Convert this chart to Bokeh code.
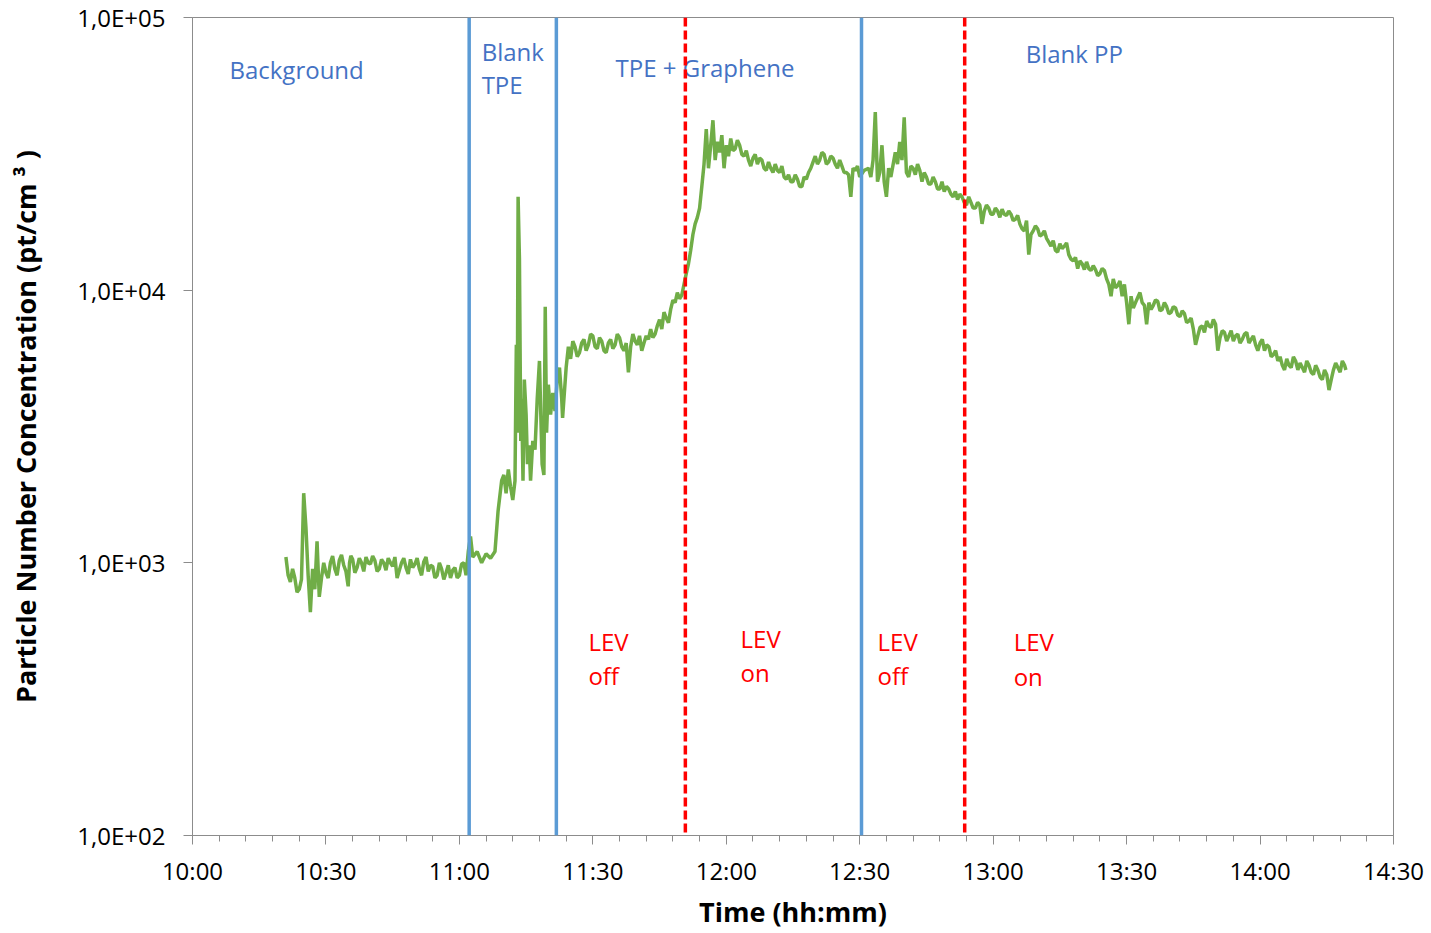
from bokeh.plotting import figure
from bokeh.models import Span, FixedTicker, ColumnDataSource
from bokeh.embed import file_html
from bokeh.resources import INLINE
from bokeh.core.properties import value

# ---- axes ----
x_tick_minutes = [0, 30, 60, 90, 120, 150, 180, 210, 240, 270]   # minutes after 10:00
x_tick_labels = ["10:00", "10:30", "11:00", "11:30", "12:00", "12:30", "13:00", "13:30", "14:00", "14:30"]
x_minor_minutes = list(range(0, 271, 6))
y_ticks = [100, 1000, 10000, 100000]
y_tick_labels = ["1,0E+02", "1,0E+03", "1,0E+04", "1,0E+05"]

# ---- phase markers (minutes after 10:00) ----
phase_lines = [62.2, 81.8, 150.4]      # blue solid
lev_lines = [110.8, 173.6]             # red dashed

# ---- annotations ----
ann_text = ["Background", "Blank", "TPE", "TPE + Graphene", "Blank PP",
            "LEV", "off", "LEV", "on", "LEV", "off", "LEV", "on"]
ann_x = [8.3, 65.0, 65.0, 95.1, 187.3,
         89.0, 89.0, 123.2, 123.2, 154.0, 154.0, 184.6, 184.6]
ann_y = [64500, 75000, 56800, 65600, 73800,
         515, 386, 528, 396, 515, 386, 515, 383]
ann_color = ["#4472C4"] * 5 + ["#FF0000"] * 8

# ---- particle number concentration (pt/cm3), time in minutes after 10:00 ----
t_bg = [21, 21.5, 22, 23, 24, 24.5, 25, 25.5, 26, 26.5,
        27, 27.5, 28, 28.5, 29, 30, 31, 32, 33, 34,
        35, 35.3, 36, 37, 38, 39, 40, 41, 42, 43,
        44, 45, 46, 47, 48, 49, 50, 51, 52, 53,
        54, 55, 56, 57, 58, 59, 60, 61, 62]
v_bg = [1050, 900, 850, 880, 800, 870, 1800, 1350, 900, 660,
        950, 800, 1200, 750, 880, 920, 1000, 950, 1020, 980,
        820, 1000, 1030, 960, 1000, 1050, 990, 1020, 950, 1000,
        1040, 970, 880, 1000, 960, 1030, 990, 950, 1010, 930,
        970, 900, 950, 920, 880, 960, 900, 1000, 1100]
t_bg_half = [22.5, 23.5, 29.5, 30.5, 31.5, 32.5, 33.5, 34.5, 35.6, 36.5,
             37.5, 38.5, 39.5, 40.5, 41.5, 42.5, 43.5, 44.5, 45.5, 46.5,
             47.5, 48.5, 49.5, 50.5, 51.5, 52.5, 53.5, 54.5, 55.5, 56.5,
             57.5, 58.5, 59.5, 60.5, 61.5]
v_bg_half = [950, 780, 1000, 880, 1060, 900, 1070, 930, 1060, 920,
             1040, 930, 1000, 1060, 930, 1030, 940, 1000, 1050, 940,
             1040, 910, 960, 1040, 900, 1050, 980, 880, 1000, 870,
             980, 940, 880, 990, 900]

t_tpe = [62.5, 63, 64, 65, 66, 67, 68, 68.7, 69.5, 70,
         70.5, 71, 71.5, 72, 72.5, 72.8, 73, 73.2, 73.5, 73.8,
         74, 74.3, 74.6, 75, 75.3, 75.7, 76, 76.5, 77, 77.5,
         78, 78.3, 78.6, 79, 79.3, 79.6, 80, 80.5, 81, 81.5,
         82]
v_tpe = [1250, 1050, 1100, 1000, 1080, 1040, 1100, 1550, 2000, 2100,
         1800, 2200, 1900, 1700, 2000, 6300, 3000, 22000, 13000, 2800,
         4000, 2000, 4700, 3500, 2300, 2700, 2000, 2800, 2600, 4000,
         5500, 3500, 2300, 2100, 8700, 3000, 4500, 3500, 4200, 3600,
         4700]

t_gr = [82.5, 83, 83.2, 84, 84.5, 85, 86, 87, 88, 89,
        90, 91, 92, 93, 94, 95, 96, 97, 97.5, 98,
        98.5, 99, 100, 101, 102, 103, 104, 105, 106, 107,
        108, 109, 110, 110.5, 111, 111.5, 112, 112.5, 113, 113.5,
        114, 114.5, 115, 115.5, 116, 116.5, 117, 117.5, 118, 118.5,
        119, 119.5, 120, 121, 122, 123, 124, 125, 126, 127,
        128, 129, 130, 131, 132, 133, 134, 135, 136, 137,
        138, 139, 140, 141, 142, 143, 144, 145, 146, 147,
        147.5, 148, 148.5, 149, 150]
v_gr = [5200, 4000, 3400, 5200, 6200, 5600, 6200, 5900, 6600, 6300,
        6800, 6100, 6500, 5900, 6600, 6300, 6700, 6000, 6400, 5000,
        6200, 6900, 6300, 6000, 6800, 7200, 6900, 7800, 8300, 7600,
        9200, 9800, 9600, 10500, 11500, 12500, 14000, 16000, 17500, 18500,
        20000, 24000, 29000, 39000, 28000, 34000, 42000, 30000, 35000, 32000,
        37000, 28000, 34000, 36000, 33000, 34000, 31000, 30000, 30500, 29000,
        30000, 27500, 28000, 29000, 27000, 26000, 26500, 25000, 25500, 24000,
        25500, 28000, 31000, 30000, 31500, 29500, 30500, 28000, 28500, 27000,
        26500, 22000, 28000, 27500, 26000]
t_gr_half = [85.5, 86.5, 87.5, 88.5, 89.5, 90.5, 91.5, 92.5, 93.5, 94.5,
             95.5, 96.5, 99.5, 100.5, 101.5, 102.5, 103.5, 104.5, 105.5, 106.5,
             107.5, 108.5, 109.5, 120.5, 121.5, 122.5, 123.5, 124.5, 125.5, 126.5,
             127.5, 128.5, 129.5, 130.5, 131.5, 132.5, 133.5, 134.5, 135.5, 136.5,
             137.5, 138.5, 139.5, 140.5, 141.5, 142.5, 143.5, 144.5, 145.5, 146.5,
             149.5]
v_gr_half = [6500, 5700, 6400, 6000, 6900, 6200, 6700, 6000, 6400, 6100,
             6900, 6200, 6500, 6800, 6400, 6600, 6700, 7400, 7200, 7900,
             8500, 9000, 9300, 31000, 32500, 35500, 31500, 32500, 28500, 31500,
             30500, 28000, 29500, 27000, 27500, 28500, 25500, 25000, 26500, 24000,
             26000, 27000, 29500, 29000, 32000, 29000, 31000, 29000, 30000, 27000,
             28500]

t_pp = [151, 152, 152.5, 153, 153.5, 154, 154.5, 155, 155.5, 156,
        156.5, 157, 158, 158.5, 159, 159.5, 160, 160.5, 161, 162,
        163, 164, 165, 166, 167, 168, 169, 170, 171, 172,
        173, 174, 175, 176, 177, 177.5, 178, 179, 180, 181,
        182, 183, 184, 185, 186, 187, 187.5, 188, 188.5, 189,
        190, 191, 192, 193, 194, 195, 196, 197, 198, 199,
        200, 201, 202, 203, 204, 205, 206, 206.5, 207, 208,
        209, 209.5, 210, 210.5, 211, 212, 213, 214, 214.5, 215,
        216, 217, 218, 219, 220, 221, 222, 223, 224, 225,
        225.5, 226, 227, 228, 229, 230, 230.5, 231, 232, 233,
        234, 235, 236, 237, 238, 239, 240, 241, 242, 243,
        244, 245, 246, 247, 248, 249, 250, 251, 252, 253,
        254, 255, 255.5, 256, 257, 258, 259, 259.3]
v_pp = [27500, 28000, 26000, 30000, 45000, 25000, 27000, 34000, 25000, 22000,
        28000, 26000, 32000, 29000, 35000, 30000, 43000, 27000, 26000, 28000,
        29000, 25000, 26000, 24500, 25000, 23500, 23000, 23500, 22000, 21500,
        22000, 20500, 21000, 20000, 20500, 17500, 19500, 20000, 19000, 19500,
        19800, 18800, 19000, 18200, 17500, 16500, 18000, 13500, 16000, 16500,
        16800, 16000, 15500, 14500, 14000, 14800, 14500, 13500, 12800, 12000,
        12500, 12700, 11800, 11900, 11500, 11800, 10500, 9500, 11000, 10400,
        9500, 10500, 9000, 7500, 9500, 9000, 9800, 8800, 7500, 9000,
        8800, 9100, 8500, 8700, 8300, 8600, 8000, 8200, 7700, 7200,
        6300, 6800, 7400, 7700, 7300, 7500, 6000, 6700, 7000, 6800,
        6500, 6900, 6600, 7000, 6600, 6300, 6400, 6000, 6200, 5800,
        5500, 5300, 5600, 5200, 5500, 5400, 5000, 5300, 4900, 5100,
        4700, 4900, 4300, 4700, 5400, 5000, 5300, 5100]
t_pp_half = [161.5, 162.5, 163.5, 164.5, 165.5, 166.5, 167.5, 168.5, 169.5, 170.5,
             171.5, 172.5, 173.5, 174.5, 175.5, 176.5, 178.5, 179.5, 180.5, 181.5,
             182.5, 183.5, 184.5, 185.5, 186.5, 189.5, 190.5, 191.5, 192.5, 193.5,
             194.5, 195.5, 196.5, 197.5, 198.5, 199.5, 200.5, 201.5, 202.5, 203.5,
             204.5, 205.5, 207.5, 208.5, 211.5, 212.5, 213.5, 215.5, 216.5, 217.5,
             218.5, 219.5, 220.5, 221.5, 222.5, 223.5, 224.5, 226.5, 227.5, 228.5,
             229.5, 231.5, 232.5, 233.5, 234.5, 235.5, 236.5, 237.5, 238.5, 239.5,
             240.5, 241.5, 242.5, 243.5, 244.5, 245.5, 246.5, 247.5, 248.5, 249.5,
             250.5, 251.5, 252.5, 253.5, 254.5, 256.5, 257.5, 258.5]
v_pp_half = [28500, 26500, 27500, 27000, 24500, 26000, 23500, 25000, 24000, 22500,
             23000, 22500, 21000, 22000, 20000, 21000, 20500, 19000, 20000, 18500,
             19000, 19500, 18000, 18800, 16800, 17200, 15800, 16500, 15000, 15200,
             13800, 14200, 14900, 13000, 13200, 12800, 11900, 12000, 12300, 11300,
             12000, 11000, 10200, 10800, 8600, 9400, 9000, 8500, 9200, 8400,
             9000, 8200, 8700, 8100, 8400, 7600, 7900, 7300, 7000, 7400,
             7800, 7100, 6500, 7100, 6800, 6400, 6900, 6400, 6800, 6000,
             6600, 6300, 5700, 6000, 5700, 5100, 5300, 5700, 5100, 5200,
             5500, 5000, 5300, 4800, 5100, 5100, 5200, 5500]

t_all = t_bg + t_bg_half + t_tpe + t_gr + t_gr_half + t_pp + t_pp_half
v_all = v_bg + v_bg_half + v_tpe + v_gr + v_gr_half + v_pp + v_pp_half
assert len(t_all) == len(v_all)
pairs = sorted(zip(t_all, v_all))
line_t = [a for a, _ in pairs]
line_v = [b for _, b in pairs]

FONT = "Open Sans"
AXIS_GRAY = "#8C8C8C"

p = figure(width=1430, height=933, x_range=(0, 270), y_range=(100, 100000),
           y_axis_type="log", output_backend="svg", toolbar_location=None,
           min_border_left=192, min_border_top=17, min_border_right=37,
           min_border_bottom=98, background_fill_color="white",
           border_fill_color="white")
p.xgrid.visible = False
p.ygrid.visible = False
p.outline_line_color = AXIS_GRAY
p.outline_line_width = 1

p.line(line_t, line_v, line_color="#70AD47", line_width=3.5)

for loc in phase_lines:
    p.add_layout(Span(location=loc, dimension="height", line_color="#5B9BD5", line_width=3.5))
for loc in lev_lines:
    p.add_layout(Span(location=loc, dimension="height", line_color="#FF0000",
                      line_width=3.5, line_dash="9 4"))

src = ColumnDataSource(dict(x=ann_x, y=ann_y, text=ann_text, color=ann_color))
p.text(x="x", y="y", text="text", text_color="color", source=src,
       text_font=value(FONT), text_font_size="24px",
       text_align="left", text_baseline="middle")

# x axis
p.xaxis.ticker = FixedTicker(ticks=x_tick_minutes, minor_ticks=x_minor_minutes)
p.xaxis.major_label_overrides = dict(zip(x_tick_minutes, x_tick_labels))
p.xaxis.axis_label = "Time (hh:mm)"
# y axis
p.yaxis.ticker = FixedTicker(ticks=y_ticks, minor_ticks=[])
p.yaxis.major_label_overrides = dict(zip(y_ticks, y_tick_labels))
p.yaxis.axis_label = "Particle Number Concentration (pt/cm ³ )"

for ax in (p.xaxis[0], p.yaxis[0]):
    ax.axis_line_color = AXIS_GRAY
    ax.major_tick_line_color = AXIS_GRAY
    ax.minor_tick_line_color = AXIS_GRAY
    ax.major_tick_in = 0
    ax.major_tick_out = 9
    ax.minor_tick_in = 0
    ax.minor_tick_out = 6
    ax.major_label_text_font = FONT
    ax.major_label_text_font_size = "24px"
    ax.major_label_text_color = "#000000"
    ax.axis_label_text_font = FONT
    ax.axis_label_text_font_size = "27px"
    ax.axis_label_text_font_style = "bold"
    ax.axis_label_text_color = "#000000"

p.xaxis.major_label_standoff = 9
p.xaxis.axis_label_standoff = 3
p.yaxis.major_label_standoff = 18
p.yaxis.axis_label_standoff = 30

open("out.html", "w").write(file_html(p, INLINE))
